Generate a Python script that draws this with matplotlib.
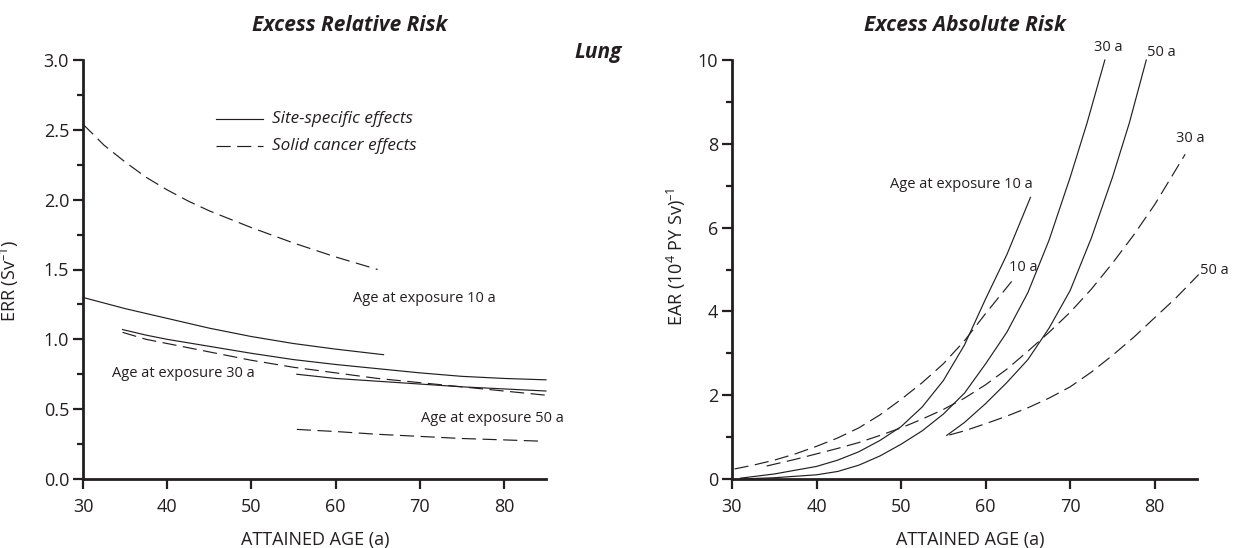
import matplotlib
matplotlib.use("Agg")
import matplotlib.pyplot as plt

plt.rcParams['font.family'] = ['Open Sans', 'DejaVu Sans']
plt.rcParams['mathtext.fontset'] = 'custom'
plt.rcParams['mathtext.rm'] = 'Open Sans'
plt.rcParams['mathtext.it'] = 'Open Sans:italic'
plt.rcParams['mathtext.bf'] = 'Open Sans:bold'
plt.rcParams['mathtext.default'] = 'regular'

# ---------------- Excess Relative Risk (Lung) ----------------
err_site10_x = [30, 32.5, 35, 37.5, 40, 45, 50, 55, 60, 65.7]
err_site10_y = [1.30, 1.26, 1.22, 1.185, 1.15, 1.08, 1.02, 0.97, 0.93, 0.89]
err_site30_x = [34.7, 37.5, 40, 45, 50, 55, 60, 65, 70, 75, 80, 85]
err_site30_y = [1.07, 1.03, 1.00, 0.95, 0.90, 0.855, 0.82, 0.79, 0.76, 0.735, 0.72, 0.71]
err_site50_x = [55.4, 60, 65, 70, 75, 80, 85]
err_site50_y = [0.75, 0.72, 0.70, 0.68, 0.66, 0.645, 0.63]
err_solid10_x = [30, 32.5, 35, 37.5, 40, 42.5, 45, 47.5, 50, 52.5, 55, 57.5, 60, 62.5, 65]
err_solid10_y = [2.54, 2.39, 2.27, 2.16, 2.07, 1.99, 1.92, 1.86, 1.80, 1.745, 1.69, 1.64, 1.59, 1.545, 1.50]
err_solid30_x = [34.7, 37.5, 40, 45, 50, 55, 60, 65, 70, 75, 80, 85]
err_solid30_y = [1.05, 1.00, 0.97, 0.91, 0.85, 0.80, 0.76, 0.72, 0.69, 0.66, 0.63, 0.60]
err_solid50_x = [55.4, 60, 65, 70, 75, 80, 84.8]
err_solid50_y = [0.355, 0.34, 0.32, 0.305, 0.29, 0.28, 0.27]

# ---------------- Excess Absolute Risk ----------------
ear_site10_x = [31, 35, 40, 42.5, 45, 47.5, 50, 52.5, 55, 57.5, 60, 62.5, 65.3]
ear_site10_y = [0.02, 0.12, 0.30, 0.45, 0.65, 0.92, 1.25, 1.72, 2.35, 3.2, 4.3, 5.35, 6.72]
ear_site30_x = [31, 35, 40, 42.5, 45, 47.5, 50, 52.5, 55, 57.5, 60, 62.5, 65, 67.5, 70, 72, 74.1]
ear_site30_y = [0.0, 0.03, 0.10, 0.18, 0.33, 0.55, 0.83, 1.15, 1.55, 2.05, 2.75, 3.5, 4.45, 5.7, 7.2, 8.5, 10.0]
ear_site50_x = [55.4, 57.5, 60, 62.5, 65, 67.5, 70, 72.5, 75, 77, 79]
ear_site50_y = [1.04, 1.35, 1.8, 2.3, 2.85, 3.6, 4.5, 5.75, 7.2, 8.5, 10.0]
ear_solid10_x = [30.3, 32.5, 35, 37.5, 40, 42.5, 45, 47.5, 50, 52.5, 55, 57.5, 60, 63.5]
ear_solid10_y = [0.24, 0.33, 0.45, 0.6, 0.78, 0.98, 1.22, 1.53, 1.9, 2.3, 2.75, 3.3, 3.95, 4.82]
ear_solid30_x = [34.1, 37.5, 40, 42.5, 45, 47.5, 50, 52.5, 55, 57.5, 60, 62.5, 65, 67.5, 70, 72.5, 75, 77.5, 80, 83.6]
ear_solid30_y = [0.31, 0.47, 0.6, 0.73, 0.87, 1.04, 1.22, 1.43, 1.66, 1.93, 2.25, 2.62, 3.05, 3.5, 3.98, 4.53, 5.15, 5.82, 6.55, 7.75]
ear_solid50_x = [55.7, 57.5, 60, 62.5, 65, 67.5, 70, 72.5, 75, 77.5, 80, 82.5, 85.2]
ear_solid50_y = [1.05, 1.15, 1.32, 1.5, 1.7, 1.93, 2.2, 2.55, 2.95, 3.38, 3.85, 4.32, 4.88]

x_ticks = [30, 40, 50, 60, 70, 80]
err_ticks = [0.0, 0.5, 1.0, 1.5, 2.0, 2.5, 3.0]
err_minor = [0.25, 0.75, 1.25, 1.75, 2.25, 2.75]
ear_ticks = [0, 2, 4, 6, 8, 10]
ear_minor = [1, 3, 5, 7, 9]

INK = '#231f20'
W, H = 1235, 548
fig = plt.figure(figsize=(W / 100, H / 100), dpi=100)
axL = fig.add_axes([83 / W, 69 / H, 463 / W, 419 / H])
axR = fig.add_axes([732 / W, 69 / H, 465 / W, 419 / H])

LW = 0.85
DASH = (0, (12, 5.5))
TICK_FS = 13
LAB_FS = 13
ANN_FS = 10.5


def style(ax):
    for s in ['top', 'right']:
        ax.spines[s].set_visible(False)
    for s in ['left', 'bottom']:
        ax.spines[s].set_linewidth(2.0)
        ax.spines[s].set_color(INK)
    ax.tick_params(axis='both', which='major', length=7, width=1.6,
                   labelsize=TICK_FS, colors=INK, pad=3)
    ax.tick_params(axis='x', which='major', pad=7)
    ax.tick_params(axis='y', which='minor', length=4.5, width=1.6, colors=INK)
    ax.tick_params(axis='x', which='minor', length=0)
    ax.set_xlim(30, 85)
    ax.set_xticks(x_ticks)


def draw(ax, x, y, dashed=False):
    ax.plot(x, y, color=INK, lw=LW, linestyle=DASH if dashed else '-',
            clip_on=False, solid_joinstyle='round')


# ---- left panel ----
style(axL)
axL.set_ylim(0, 3.0)
axL.set_yticks(err_ticks)
axL.set_yticklabels([f'{v:.1f}' for v in err_ticks])
axL.set_yticks(err_minor, minor=True)
draw(axL, err_site10_x, err_site10_y)
draw(axL, err_site30_x, err_site30_y)
draw(axL, err_site50_x, err_site50_y)
draw(axL, err_solid10_x, err_solid10_y, True)
draw(axL, err_solid30_x, err_solid30_y, True)
draw(axL, err_solid50_x, err_solid50_y, True)

axL.set_xlabel('ATTAINED AGE (a)', fontsize=LAB_FS, color=INK)
axL.xaxis.set_label_coords(0.501, -0.125)
axL.set_ylabel('ERR (Sv$^{\u2013 1}$)', fontsize=LAB_FS, color=INK)
axL.yaxis.set_label_coords(-0.134, 0.473)
axL.set_title('Excess Relative Risk', x=0.575, y=1.0835, va='center', pad=0,
              fontsize=15, fontweight='bold', style='italic', color=INK)
axL.text(1.113, 1.019, 'Lung', transform=axL.transAxes, ha='center', va='center',
         fontsize=15, fontweight='bold', style='italic', color=INK)

# legend
axL.plot([0.287, 0.389], [0.859, 0.859], transform=axL.transAxes, color=INK, lw=LW)
axL.plot([0.287, 0.389], [0.795, 0.795], transform=axL.transAxes, color=INK, lw=LW,
         linestyle=DASH)
axL.text(0.408, 0.859, 'Site-specific effects', transform=axL.transAxes, ha='left',
         va='center', fontsize=12.3, style='italic', color=INK)
axL.text(0.408, 0.795, 'Solid cancer effects', transform=axL.transAxes, ha='left',
         va='center', fontsize=12.3, style='italic', color=INK)

axL.text(62.1, 1.29, 'Age at exposure 10 a', fontsize=ANN_FS, ha='left', va='center', color=INK)
axL.text(33.4, 0.757, 'Age at exposure 30 a', fontsize=ANN_FS, ha='left', va='center', color=INK)
axL.text(70.2, 0.436, 'Age at exposure 50 a', fontsize=ANN_FS, ha='left', va='center', color=INK)

# ---- right panel ----
style(axR)
axR.set_ylim(0, 10)
axR.set_yticks(ear_ticks)
axR.set_yticks(ear_minor, minor=True)
draw(axR, ear_site10_x, ear_site10_y)
draw(axR, ear_site30_x, ear_site30_y)
draw(axR, ear_site50_x, ear_site50_y)
draw(axR, ear_solid10_x, ear_solid10_y, True)
draw(axR, ear_solid30_x, ear_solid30_y, True)
draw(axR, ear_solid50_x, ear_solid50_y, True)

axR.set_xlabel('ATTAINED AGE (a)', fontsize=LAB_FS, color=INK)
axR.xaxis.set_label_coords(0.512, -0.125)
axR.set_ylabel('EAR (10$^{4}$ PY Sv)$^{\u2013 1}$', fontsize=LAB_FS, color=INK)
axR.yaxis.set_label_coords(-0.095, 0.53)
axR.set_title('Excess Absolute Risk', x=0.501, y=1.0835, va='center', pad=0,
              fontsize=15, fontweight='bold', style='italic', color=INK)

axR.text(48.7, 7.02, 'Age at exposure 10 a', fontsize=ANN_FS, ha='left', va='center', color=INK)
axR.text(62.8, 5.05, '10 a', fontsize=ANN_FS, ha='left', va='center', color=INK)
axR.text(72.8, 10.29, '30 a', fontsize=ANN_FS, ha='left', va='center', color=INK)
axR.text(79.1, 10.17, '50 a', fontsize=ANN_FS, ha='left', va='center', color=INK)
axR.text(82.5, 8.12, '30 a', fontsize=ANN_FS, ha='left', va='center', color=INK)
axR.text(85.4, 4.98, '50 a', fontsize=ANN_FS, ha='left', va='center', color=INK)

fig.savefig('out.png', dpi=100)
